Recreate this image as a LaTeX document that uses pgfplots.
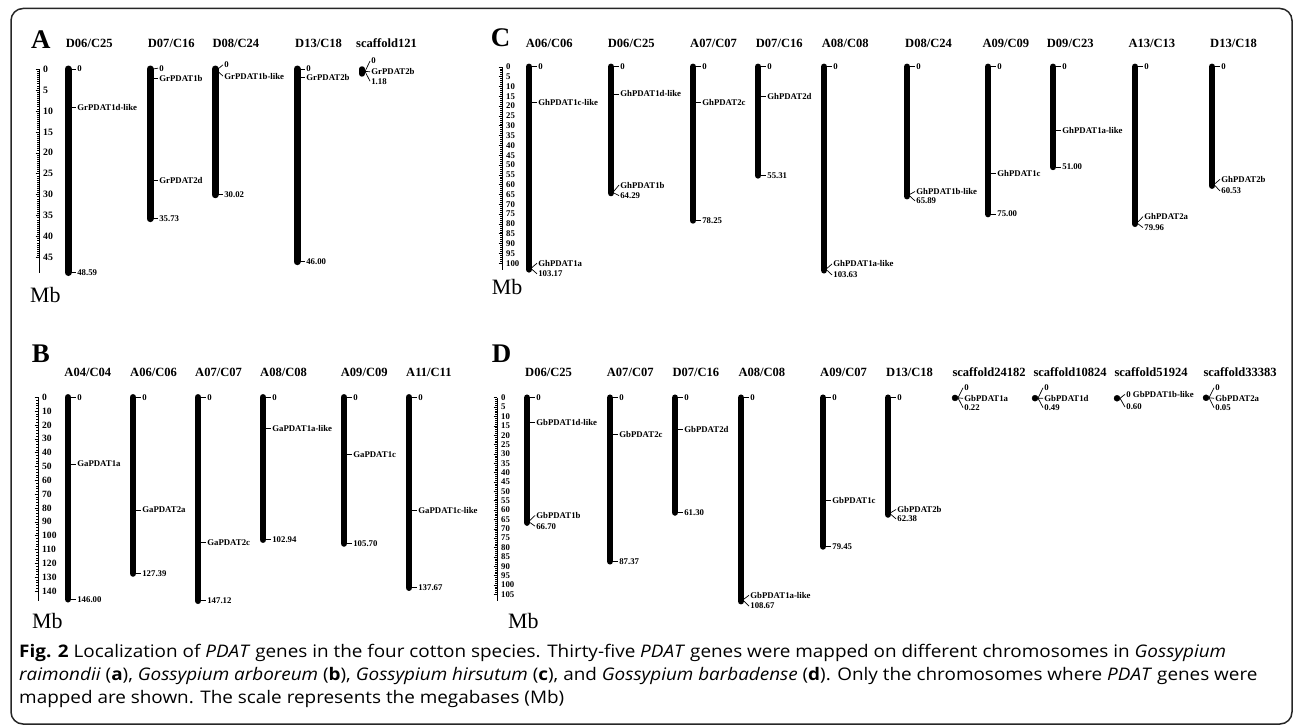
\documentclass[border=0pt]{standalone}
\usepackage{fontspec}
\setmainfont{Liberation Serif}
\newfontfamily\capfont[FakeStretch=1.09]{Open Sans}
\usepackage{pgfplots}
\pgfplotsset{compat=1.18}

\newcommand\glfont{\fontsize{8.8}{9}\selectfont\bfseries}
\newcommand\ttfont{\fontsize{12.6}{13}\selectfont\bfseries}
\newlength\chrw \setlength\chrw{6.5bp}
\newcommand\chr[2]{\addplot[black,line width=\chrw,line cap=round] coordinates {(#1,0) (#1,#2)};}
\newcommand\glab[4]{\pgfmathsetmacro\gxa{#1+3}\pgfmathsetmacro\gxb{#1+8}%
  \addplot[black,line width=0.7bp] coordinates {(\gxa,#2) (\gxb,#3)} node[pos=1,anchor=west,inner sep=1bp,font=\glfont]{#4};}

\pgfplotsset{chrom/.style={scale only axis, axis x line=none, axis y line*=left,
  y dir=reverse, clip=false, xmax=1295, ymin=0, height=203.5bp, anchor=north west,
  xtick=\empty, tick align=outside, major tick length=3.5bp, minor tick length=2bp,
  y axis line style={line width=0.6bp}, every tick/.style={black,line width=0.5bp},
  yticklabel style={anchor=west, xshift=7.5bp, inner sep=0pt},
  /pgf/number format/assume math mode=true}}

\begin{document}
\begin{tikzpicture}[x=1bp,y=-1bp]
\path[use as bounding box] (0,0) rectangle (1295,728);
\draw[line width=1.5bp, draw=black!85, rounded corners=12bp] (11,8.5) rectangle (1292,724);

% ---------------- Panel A ----------------
\node[anchor=base west,inner sep=0,font=\fontsize{27}{27}\selectfont\bfseries] at (31,48.3) {A};
\foreach \x/\t in {65.7/D06\slash C25,147.7/D07\slash C16,212.3/D08\slash C24,295/D13\slash C18,356/scaffold121}
  \node[anchor=base west,inner sep=0,font=\ttfont] at (\x,47.5) {\t};
\node[anchor=base west,inner sep=0,font=\fontsize{22}{22}\selectfont] at (30,302) {Mb};
\setlength\chrw{7bp}
\begin{axis}[chrom, at={(39bp,-69bp)}, xmin=39, width=1256bp, ymax=48.59,
  ytick={0,5,...,45}, minor y tick num=9,
  yticklabel style={font=\fontsize{9.8}{10}\selectfont\bfseries}]
\chr{68}{48.59}
\glab{68}{0}{0}{0}\glab{68}{9.2}{9.2}{GrPDAT1d-like}\glab{68}{48.59}{48.59}{48.59}
\chr{150}{35.73}
\glab{150}{0}{-0.2}{0}\glab{150}{2.2}{2.2}{GrPDAT1b}\glab{150}{26.7}{26.7}{GrPDAT2d}\glab{150}{35.73}{35.73}{35.73}
\chr{215}{30.02}
\glab{215}{0}{-1.0}{0}\glab{215}{0.6}{1.7}{GrPDAT1b-like}\glab{215}{30.02}{30.02}{30.02}
\chr{297}{46.00}
\glab{297}{0}{0}{0}\glab{297}{2.1}{2.1}{GrPDAT2b}\glab{297}{46.00}{46.00}{46.00}
\addplot[black,line width=5.5bp,line cap=round] coordinates {(362,0) (362,1.18)};
\glab{362}{0.59}{-1.9}{0}\glab{362}{0.59}{0.65}{GrPDAT2b}\glab{362}{0.59}{2.9}{1.18}
\end{axis}
\setlength\chrw{6.5bp}

% ---------------- Panel C ----------------
\node[anchor=base west,inner sep=0,font=\fontsize{27}{27}\selectfont\bfseries] at (490.7,46.7) {C};
\foreach \x/\t in {525.7/A06\slash C06,607.7/D06\slash C25,690/A07\slash C07,755.7/D07\slash C16,821.7/A08\slash C08,905/D08\slash C24,982.3/A09\slash C09,1046.7/D09\slash C23,1128.3/A13\slash C13,1210/D13\slash C18}
  \node[anchor=base west,inner sep=0,font=\ttfont] at (\x,47.5) {\t};
\node[anchor=base west,inner sep=0,font=\fontsize{22}{22}\selectfont] at (491.7,294) {Mb};
\begin{axis}[chrom, at={(502bp,-66.8bp)}, xmin=502, width=793bp, ymax=103.63,
  ytick={0,5,...,100}, minor y tick num=4,
  yticklabel style={font=\fontsize{8.8}{9}\selectfont\bfseries}]
\chr{529}{103.17}
\glab{529}{0}{0}{0}\glab{529}{18.3}{18.3}{GhPDAT1c-like}\glab{529}{102.2}{100.0}{GhPDAT1a}\glab{529}{103.17}{105.4}{103.17}
\chr{611}{64.29}
\glab{611}{0}{0}{0}\glab{611}{13.8}{13.8}{GhPDAT1d-like}\glab{611}{63.3}{60.2}{GhPDAT1b}\glab{611}{64.29}{65.6}{64.29}
\chr{693}{78.25}
\glab{693}{0}{0}{0}\glab{693}{18.3}{18.3}{GhPDAT2c}\glab{693}{78.25}{78.25}{78.25}
\chr{758}{55.31}
\glab{758}{0}{0}{0}\glab{758}{14.9}{14.9}{GhPDAT2d}\glab{758}{55.31}{55.31}{55.31}
\chr{824}{103.63}
\glab{824}{0}{0}{0}\glab{824}{102.6}{100.4}{GhPDAT1a-like}\glab{824}{103.63}{106.0}{103.63}
\chr{907}{65.89}
\glab{907}{0}{0}{0}\glab{907}{64.9}{63.5}{GhPDAT1b-like}\glab{907}{65.89}{68.3}{65.89}
\chr{988}{75.00}
\glab{988}{0}{0}{0}\glab{988}{54.2}{54.2}{GhPDAT1c}\glab{988}{75.00}{75.00}{75.00}
\chr{1053}{51.00}
\glab{1053}{0}{0}{0}\glab{1053}{32.2}{32.2}{GhPDAT1a-like}\glab{1053}{51.00}{51.00}{51.00}
\chr{1135}{79.96}
\glab{1135}{0}{0}{0}\glab{1135}{79.0}{76.3}{GhPDAT2a}\glab{1135}{79.96}{81.9}{79.96}
\chr{1212}{60.53}
\glab{1212}{0}{0}{0}\glab{1212}{59.5}{57.3}{GhPDAT2b}\glab{1212}{60.53}{63.2}{60.53}
\end{axis}

% ---------------- Panel B ----------------
\node[anchor=base west,inner sep=0,font=\fontsize{27}{27}\selectfont\bfseries] at (31.7,362.7) {B};
\foreach \x/\t in {64.3/A04\slash C04,130/A06\slash C06,195/A07\slash C07,260/A08\slash C08,340.7/A09\slash C09,406/A11\slash C11}
  \node[anchor=base west,inner sep=0,font=\ttfont] at (\x,376) {\t};
\node[anchor=base west,inner sep=0,font=\fontsize{22}{22}\selectfont] at (32,628) {Mb};
\begin{axis}[chrom, at={(38bp,-397.3bp)}, xmin=38, width=1257bp, ymax=147.12,
  ytick={0,10,...,140}, minor y tick num=4,
  yticklabel style={font=\fontsize{9.6}{10}\selectfont\bfseries}]
\chr{68}{146.00}
\glab{68}{0}{0}{0}\glab{68}{48.2}{48.2}{GaPDAT1a}\glab{68}{146.00}{146.00}{146.00}
\chr{133}{127.39}
\glab{133}{0}{0}{0}\glab{133}{81.5}{81.5}{GaPDAT2a}\glab{133}{127.39}{127.39}{127.39}
\chr{198}{147.12}
\glab{198}{0}{0}{0}\glab{198}{104.8}{104.8}{GaPDAT2c}\glab{198}{147.12}{147.12}{147.12}
\chr{263}{102.94}
\glab{263}{0}{0}{0}\glab{263}{22.4}{22.4}{GaPDAT1a-like}\glab{263}{102.94}{102.94}{102.94}
\chr{344}{105.70}
\glab{344}{0}{0}{0}\glab{344}{41.2}{41.2}{GaPDAT1c}\glab{344}{105.70}{105.70}{105.70}
\chr{409}{137.67}
\glab{409}{0}{0}{0}\glab{409}{81.5}{81.5}{GaPDAT1c-like}\glab{409}{137.67}{137.67}{137.67}
\end{axis}

% ---------------- Panel D ----------------
\node[anchor=base west,inner sep=0,font=\fontsize{27}{27}\selectfont\bfseries] at (491.7,362.7) {D};
\foreach \x/\t in {525/D06\slash C25,606.7/A07\slash C07,672.3/D07\slash C16,738.3/A08\slash C08,820/A09\slash C07,886/D13\slash C18,952.3/scaffold24182,1033.3/scaffold10824,1114.3/scaffold51924,1203.3/scaffold33383}
  \node[anchor=base west,inner sep=0,font=\ttfont] at (\x,376.5) {\t};
\node[anchor=base west,inner sep=0,font=\fontsize{22}{22}\selectfont] at (508,628) {Mb};
\begin{axis}[chrom, at={(497bp,-397.7bp)}, xmin=497, width=798bp, ymax=108.67,
  ytick={0,5,...,105}, minor y tick num=4,
  yticklabel style={font=\fontsize{8.8}{9}\selectfont\bfseries}]
\chr{527}{66.70}
\glab{527}{0}{0}{0}\glab{527}{13.3}{13.3}{GbPDAT1d-like}\glab{527}{65.5}{62.9}{GbPDAT1b}\glab{527}{66.70}{68.6}{66.70}
\chr{610}{87.37}
\glab{610}{0}{0}{0}\glab{610}{19.8}{19.8}{GbPDAT2c}\glab{610}{87.37}{87.37}{87.37}
\chr{675}{61.30}
\glab{675}{0}{0}{0}\glab{675}{16.8}{16.8}{GbPDAT2d}\glab{675}{61.30}{61.30}{61.30}
\chr{741}{108.67}
\glab{741}{0}{0}{0}\glab{741}{107.5}{105.5}{GbPDAT1a-like}\glab{741}{108.67}{111.3}{108.67}
\chr{823}{79.45}
\glab{823}{0}{0}{0}\glab{823}{55.0}{55.0}{GbPDAT1c}\glab{823}{79.45}{79.45}{79.45}
\chr{888}{62.38}
\glab{888}{0}{0}{0}\glab{888}{61.3}{59.7}{GbPDAT2b}\glab{888}{62.38}{64.7}{62.38}
\addplot[black,only marks,mark=*,mark size=3bp] coordinates {(955,0.11) (1035,0.25) (1117,0.30) (1206,0.03)};
\glab{955}{0.11}{-5.3}{0}\glab{955}{0.11}{0.3}{GbPDAT1a}\glab{955}{0.11}{5.3}{0.22}
\glab{1035}{0.25}{-5.3}{0}\glab{1035}{0.25}{0.3}{GbPDAT1d}\glab{1035}{0.25}{5.3}{0.49}
\glab{1117}{0.30}{-1.8}{0 GbPDAT1b-like}\glab{1117}{0.30}{5.0}{0.60}
\glab{1206}{0.03}{-5.3}{0}\glab{1206}{0.03}{0.3}{GbPDAT2a}\glab{1206}{0.03}{5.3}{0.05}
\end{axis}

% ---------------- Caption ----------------
\begin{scope}[every node/.style={anchor=base west,inner sep=0,font=\capfont\fontsize{17.4}{17.4}\selectfont}]
\node at (19,657) {\textbf{Fig. 2} Localization of \textit{PDAT} genes in the four cotton species. Thirty-five \textit{PDAT} genes were mapped on different chromosomes in \textit{Gossypium}};
\node at (19,680) {\textit{raimondii} (\textbf{a}), \textit{Gossypium arboreum} (\textbf{b}), \textit{Gossypium hirsutum} (\textbf{c}), and \textit{Gossypium barbadense} (\textbf{d}). Only the chromosomes where \textit{PDAT} genes were};
\node at (19,703) {mapped are shown. The scale represents the megabases (Mb)};
\end{scope}
\end{tikzpicture}
\end{document}
